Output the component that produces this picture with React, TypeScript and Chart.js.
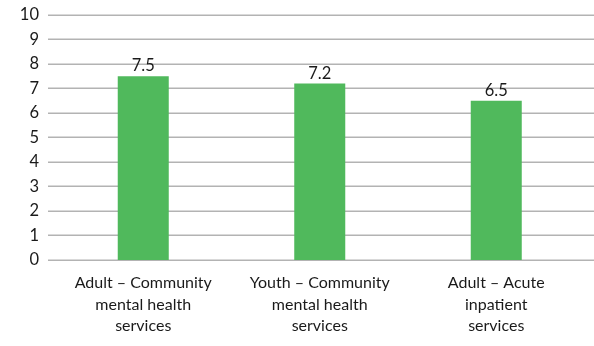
import React, { useEffect, useRef } from "react";
import { Chart, registerables } from "chart.js";

Chart.register(...registerables);

const categories: string[][] = [
  ["Adult – Community", "mental health", "services"],
  ["Youth – Community", "mental health", "services"],
  ["Adult – Acute", "inpatient", "services"],
];
const values: number[] = [7.5, 7.2, 6.5];
const yTicks: number[] = [0, 1, 2, 3, 4, 5, 6, 7, 8, 9, 10];

const FONT = "Lato, 'Noto Sans', sans-serif";
const TEXT = "#1a1a1a";

const gridPlugin = {
  id: "fullGrid",
  beforeDatasetsDraw(chart: any) {
    const { ctx } = chart;
    const y = chart.scales.y;
    ctx.save();
    ctx.strokeStyle = "#b3b3b3";
    ctx.lineWidth = 1.5;
    for (const t of yTicks) {
      const py = Math.round(y.getPixelForValue(t)) + 0.25;
      ctx.beginPath();
      ctx.moveTo(48, py);
      ctx.lineTo(chart.width, py);
      ctx.stroke();
    }
    ctx.restore();
  },
};

const labelPlugin = {
  id: "valueLabels",
  afterDatasetsDraw(chart: any) {
    const { ctx } = chart;
    const meta = chart.getDatasetMeta(0);
    ctx.save();
    ctx.fillStyle = TEXT;
    ctx.font = `16.5px ${FONT}`;
    ctx.textAlign = "center";
    ctx.textBaseline = "alphabetic";
    meta.data.forEach((bar: any, i: number) => {
      const { x, y } = bar.getProps(["x", "y"], true);
      ctx.fillText(String(values[i]), x, y - 5);
    });
    ctx.restore();
  },
};

export default function App() {
  const ref = useRef<HTMLCanvasElement>(null);
  useEffect(() => {
    document.body.style.margin = "0";
    const chart = new Chart(ref.current!, {
      type: "bar",
      data: {
        labels: categories,
        datasets: [
          {
            data: values,
            backgroundColor: "#50b95c",
            barPercentage: 0.289,
            categoryPercentage: 1,
          },
        ],
      },
      options: {
        responsive: false,
        animation: false,
        layout: { padding: { top: 0, right: 9.5, left: 0, bottom: 0 } },
        plugins: { legend: { display: false }, tooltip: { enabled: false } },
        scales: {
          x: {
            grid: { display: false, drawTicks: false },
            border: { display: false },
            ticks: {
              color: TEXT,
              font: { family: FONT, size: 16, lineHeight: 1.35 },
              padding: 12,
              maxRotation: 0,
              autoSkip: false,
            },
            afterFit(scale: any) {
              scale.height = 86;
            },
          },
          y: {
            min: 0,
            max: 10,
            grid: { display: false, drawTicks: true, tickLength: 11 },
            border: { display: false },
            ticks: {
              stepSize: 1,
              autoSkip: false,
              color: TEXT,
              font: { family: FONT, size: 16.5 },
              padding: 5,
            },
            afterFit(scale: any) {
              scale.width = 55;
            },
          },
        },
      },
      plugins: [gridPlugin, labelPlugin],
    });
    return () => chart.destroy();
  }, []);
  return <canvas ref={ref} width={594} height={346} style={{ display: "block" }} />;
}
